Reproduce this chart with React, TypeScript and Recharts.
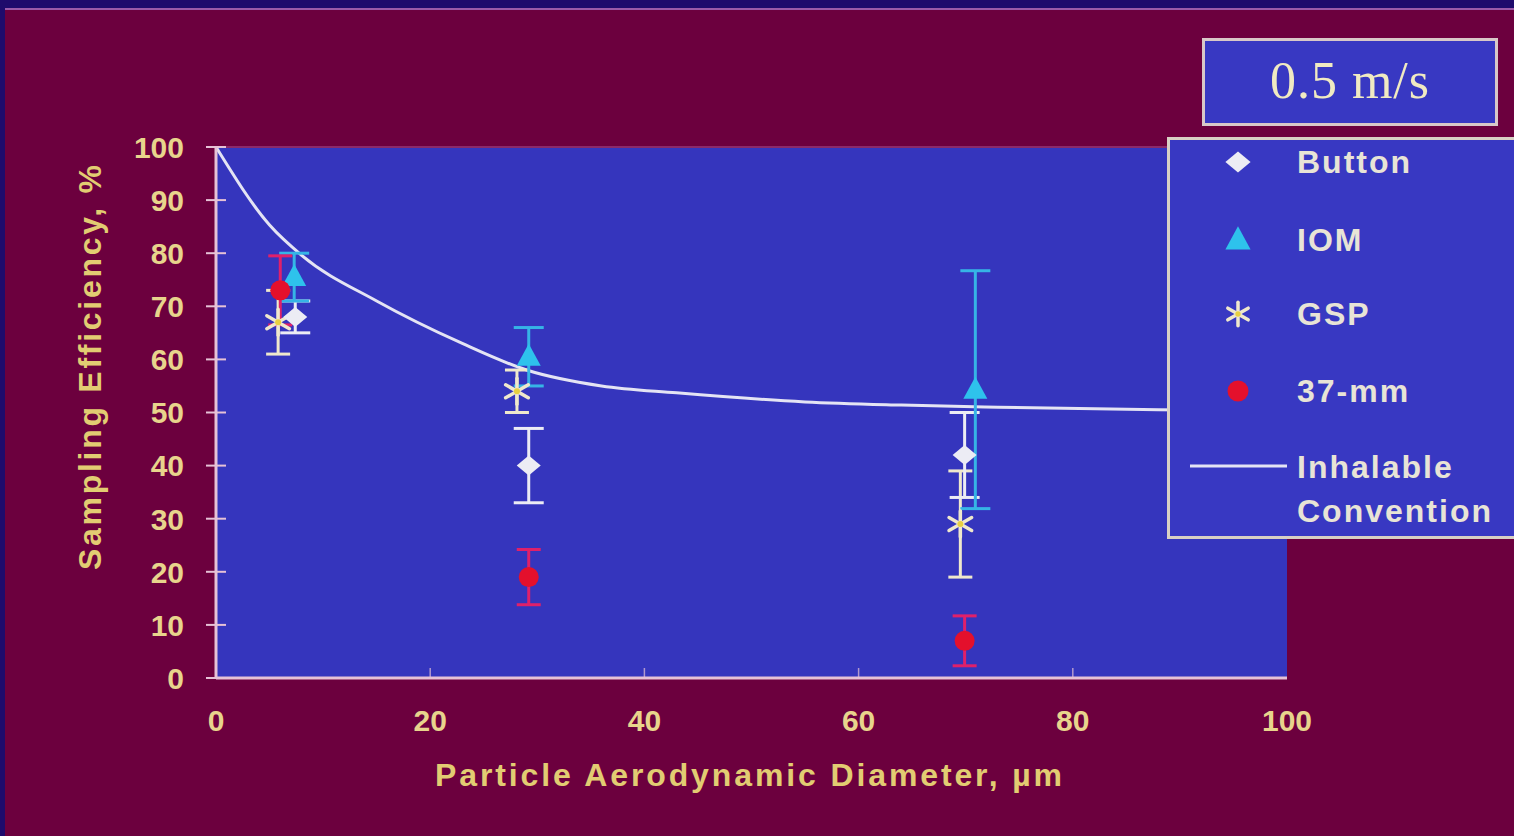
import React from 'react';
import {
  ComposedChart,
  Line,
  Scatter,
  ErrorBar,
  XAxis,
  YAxis,
  Legend,
  ReferenceArea,
  ReferenceLine,
} from 'recharts';

// ---------- data ----------
const inhalableX = [0, 5, 8, 15, 23, 29, 36, 43, 55, 64, 73, 88, 100];
const inhalableY = [100, 85.3, 79.6, 71, 63, 58, 55, 53.7, 52, 51.4, 51, 50.5, 50.3];

const buttonX = [7.4, 29.2, 69.9];
const buttonY = [68, 40, 42];
const buttonErr = [3, 7, 8];

const iomX = [7.3, 29.2, 70.9];
const iomY = [75.5, 60.5, 54.3];
const iomErr = [4.5, 5.5, 22.4];

const gspX = [5.8, 28.1, 69.5];
const gspY = [67, 54, 29];
const gspErr = [6, 4, 10];

const mmX = [6.0, 29.2, 69.9];
const mmY = [73, 19, 7];
const mmErr = [6.5, 5.2, 4.7];

const xTicks = [0, 20, 40, 60, 80, 100];
const yTicks = [0, 10, 20, 30, 40, 50, 60, 70, 80, 90, 100];

const seriesNames = ['Button', 'IOM', 'GSP', '37-mm', 'Inhalable Convention'];
const titleText = '0.5 m/s';
const xLabel = 'Particle Aerodynamic Diameter, \u00b5m';
const yLabel = 'Sampling Efficiency, %';

// ---------- build tables ----------
const zip = (xs: number[], ys: number[], es?: number[]) =>
  xs.map((x, i) => ({ x, y: ys[i], err: es ? es[i] : 0 }));

const inhalableData = zip(inhalableX, inhalableY);
const buttonData = zip(buttonX, buttonY, buttonErr);
const iomData = zip(iomX, iomY, iomErr);
const gspData = zip(gspX, gspY, gspErr);
const mmData = zip(mmX, mmY, mmErr);

// ---------- styles ----------
const W = 1514;
const H = 836;
const NAVY = '#1e0b6c';
const MAROON = '#6c003e';
const PLOT_BLUE = '#3535bd';
const BOX_BLUE = '#3838c2';
const AXIS = '#e6c2d6';
const TICK = '#e8d48c';
const LABEL = '#e2cc72';
const LEG_TEXT = '#e8e4d6';
const FONT = '"Liberation Sans", Arial, sans-serif';

const C_BUTTON = '#ececf4';
const C_IOM = '#2ec2ec';
const C_IOM_ERR = '#36b4e6';
const C_GSP = '#efe8cc';
const C_MM = '#e4102c';
const C_MM_ERR = '#e0206a';
const C_LINE = '#e4e4f4';

const X_TICK_OFFSET = 31;

// ---------- marker shapes ----------
function Diamond({ cx, cy, s = 1 }: any) {
  return (
    <polygon
      points={`${cx},${cy - 10 * s} ${cx + 12 * s},${cy} ${cx},${cy + 10 * s} ${cx - 12 * s},${cy}`}
      fill={C_BUTTON}
    />
  );
}
function Triangle({ cx, cy, s = 1 }: any) {
  return (
    <polygon
      points={`${cx},${cy - 13 * s} ${cx + 12 * s},${cy + 9 * s} ${cx - 12 * s},${cy + 9 * s}`}
      fill={C_IOM}
    />
  );
}
function Asterisk({ cx, cy, s = 1 }: any) {
  const r = 13 * s;
  const d = r * 0.87;
  const h = r * 0.5;
  return (
    <g stroke={C_GSP} strokeWidth={3.5} strokeLinecap="round">
      <line x1={cx} y1={cy - r} x2={cx} y2={cy + r} />
      <line x1={cx - d} y1={cy - h} x2={cx + d} y2={cy + h} />
      <line x1={cx - d} y1={cy + h} x2={cx + d} y2={cy - h} />
      <circle cx={cx} cy={cy} r={3 * s} fill="#e8d040" stroke="none" />
    </g>
  );
}
function Dot({ cx, cy, s = 1 }: any) {
  return <circle cx={cx} cy={cy} r={10 * s} fill={C_MM} />;
}

// ---------- ticks ----------
function XTick(props: any) {
  const { x, y, payload } = props;
  const axisY = y - X_TICK_OFFSET;
  return (
    <g>
      {payload.value !== 0 && payload.value !== 100 && (
        <line x1={x} x2={x} y1={axisY - 10} y2={axisY} stroke={AXIS} strokeWidth={1.5} opacity={0.7} />
      )}
      <text
        x={x}
        y={y}
        dy="0.72em"
        textAnchor="middle"
        fill={TICK}
        fontSize={30}
        fontWeight={700}
        fontFamily={FONT}
      >
        {payload.value}
      </text>
    </g>
  );
}
function YTick(props: any) {
  const { x, y, payload } = props;
  return (
    <g>
      <line x1={x + 22} x2={x + 42} y1={y} y2={y} stroke={AXIS} strokeWidth={2} />
      <text
        x={x}
        y={y}
        dy="0.36em"
        textAnchor="end"
        fill={TICK}
        fontSize={30}
        fontWeight={700}
        fontFamily={FONT}
      >
        {payload.value}
      </text>
    </g>
  );
}

// ---------- labels ----------
function YLabelContent(props: any) {
  const vb = props.viewBox || { x: 0, y: 147, width: 216, height: 531 };
  const cx = vb.x + 90;
  const cy = vb.y + vb.height / 2 - 45;
  return (
    <text
      x={cx}
      y={cy}
      transform={`rotate(-90 ${cx} ${cy})`}
      textAnchor="middle"
      dominantBaseline="central"
      fill={LABEL}
      fontSize={32}
      fontWeight={700}
      fontFamily={FONT}
      textLength={405}
    >
      {yLabel}
    </text>
  );
}
function XLabelContent(props: any) {
  const vb = props.viewBox || { x: 216, y: 678, width: 1071, height: 120 };
  const cx = vb.x + vb.width / 2 - 3;
  const cy = vb.y + 97;
  return (
    <text
      x={cx}
      y={cy}
      textAnchor="middle"
      dominantBaseline="central"
      fill={LABEL}
      fontSize={32}
      fontWeight={700}
      fontFamily={FONT}
      textLength={627}
    >
      {xLabel}
    </text>
  );
}

// ---------- legend ----------
const legendMarkers = [Diamond, Triangle, Asterisk, Dot, null];

function LegendBoxes() {
  const rowY = [162, 240, 314, 391];
  return (
    <div style={{ position: 'relative', width: W, height: H, pointerEvents: 'none' }}>
      {/* title box */}
      <div
        style={{
          position: 'absolute',
          left: 1202,
          top: 38,
          width: 296,
          height: 88,
          boxSizing: 'border-box',
          background: BOX_BLUE,
          border: '3px solid #d8c8c8',
          display: 'flex',
          alignItems: 'center',
          justifyContent: 'center',
          color: '#f0eac2',
          fontFamily: '"Liberation Serif", "Times New Roman", serif',
          fontSize: 52,
          letterSpacing: 1,
          paddingBottom: 4,
        }}
      >
        {titleText}
      </div>
      {/* legend box */}
      <div
        style={{
          position: 'absolute',
          left: 1167,
          top: 137,
          width: 360,
          height: 402,
          boxSizing: 'border-box',
          background: BOX_BLUE,
          border: '3px solid #d8d0c4',
        }}
      />
      <svg
        width={W}
        height={H}
        style={{ position: 'absolute', left: 0, top: 0, overflow: 'visible' }}
      >
        {seriesNames.slice(0, 4).map((name, i) => {
          const M = legendMarkers[i] as any;
          return (
            <g key={name}>
              <M cx={1238} cy={rowY[i]} s={i === 2 ? 0.9 : 1.05} />
              <text
                x={1297}
                y={rowY[i]}
                dominantBaseline="central"
                fill={LEG_TEXT}
                fontSize={32}
                fontWeight={700}
                fontFamily={FONT}
                letterSpacing={2}
              >
                {name}
              </text>
            </g>
          );
        })}
        <line x1={1190} x2={1287} y1={466} y2={466} stroke={C_LINE} strokeWidth={3} />
        <text
          fill={LEG_TEXT}
          fontSize={32}
          fontWeight={700}
          fontFamily={FONT}
          letterSpacing={2}
        >
          <tspan x={1297} y={478}>
            {seriesNames[4].split(' ')[0]}
          </tspan>
          <tspan x={1297} y={522}>
            {seriesNames[4].split(' ')[1]}
          </tspan>
        </text>
      </svg>
    </div>
  );
}

export default function App() {
  return (
    <div
      style={{
        position: 'absolute',
        left: 0,
        top: 0,
        width: W,
        height: H,
        background: NAVY,
        overflow: 'hidden',
      }}
    >
      <div
        style={{
          position: 'absolute',
          left: 5,
          top: 8,
          width: W - 5,
          height: H - 8,
          background: MAROON,
          borderTop: '2px solid #9a5aa8',
          boxSizing: 'border-box',
        }}
      />
      <div style={{ position: 'absolute', left: 0, top: 0 }}>
        <ComposedChart
          width={W}
          height={H}
          margin={{ top: 147, right: 227, bottom: 38, left: 0 }}
        >
          <XAxis
            type="number"
            dataKey="x"
            domain={[0, 100]}
            ticks={xTicks}
            allowDataOverflow
            height={120}
            tickSize={0}
            tickMargin={X_TICK_OFFSET}
            tickLine={false}
            axisLine={{ stroke: AXIS, strokeWidth: 3 }}
            tick={<XTick />}
            label={{ content: <XLabelContent /> } as any}
          />
          <YAxis
            type="number"
            dataKey="y"
            domain={[0, 100]}
            ticks={yTicks}
            allowDataOverflow
            width={216}
            tickSize={0}
            tickMargin={32}
            tickLine={false}
            axisLine={{ stroke: AXIS, strokeWidth: 3 }}
            tick={<YTick />}
            label={{ content: <YLabelContent /> } as any}
          />
          <ReferenceArea
            x1={0}
            x2={100}
            y1={0}
            y2={100}
            fill={PLOT_BLUE}
            fillOpacity={1}
            stroke="none"
            ifOverflow="extendDomain"
          />
          <ReferenceLine y={100} stroke="#8a2a6a" strokeWidth={2} />
          <Line
            data={inhalableData}
            dataKey="y"
            name={seriesNames[4]}
            type="monotone"
            stroke={C_LINE}
            strokeWidth={3}
            dot={false}
            activeDot={false}
            isAnimationActive={false}
          />
          <Scatter
            data={gspData}
            dataKey="y"
            name={seriesNames[2]}
            shape={(p: any) => <Asterisk cx={p.cx} cy={p.cy} />}
            isAnimationActive={false}
          >
            <ErrorBar dataKey="err" direction="y" width={12} stroke={C_GSP} strokeWidth={3} isAnimationActive={false} />
          </Scatter>
          <Scatter
            data={buttonData}
            dataKey="y"
            name={seriesNames[0]}
            shape={(p: any) => <Diamond cx={p.cx} cy={p.cy} />}
            isAnimationActive={false}
          >
            <ErrorBar dataKey="err" direction="y" width={15} stroke={C_BUTTON} strokeWidth={3} isAnimationActive={false} />
          </Scatter>
          <Scatter
            data={iomData}
            dataKey="y"
            name={seriesNames[1]}
            shape={(p: any) => <Triangle cx={p.cx} cy={p.cy} />}
            isAnimationActive={false}
          >
            <ErrorBar dataKey="err" direction="y" width={15} stroke={C_IOM_ERR} strokeWidth={3} isAnimationActive={false} />
          </Scatter>
          <Scatter
            data={mmData}
            dataKey="y"
            name={seriesNames[3]}
            shape={(p: any) => <Dot cx={p.cx} cy={p.cy} />}
            isAnimationActive={false}
          >
            <ErrorBar dataKey="err" direction="y" width={12} stroke={C_MM_ERR} strokeWidth={3} isAnimationActive={false} />
          </Scatter>
          <Legend
            layout="vertical"
            align="center"
            verticalAlign="middle"
            content={() => <LegendBoxes />}
            wrapperStyle={{ position: 'absolute', left: 0, top: 0, width: W, height: H, pointerEvents: 'none' }}
          />
        </ComposedChart>
      </div>
    </div>
  );
}
